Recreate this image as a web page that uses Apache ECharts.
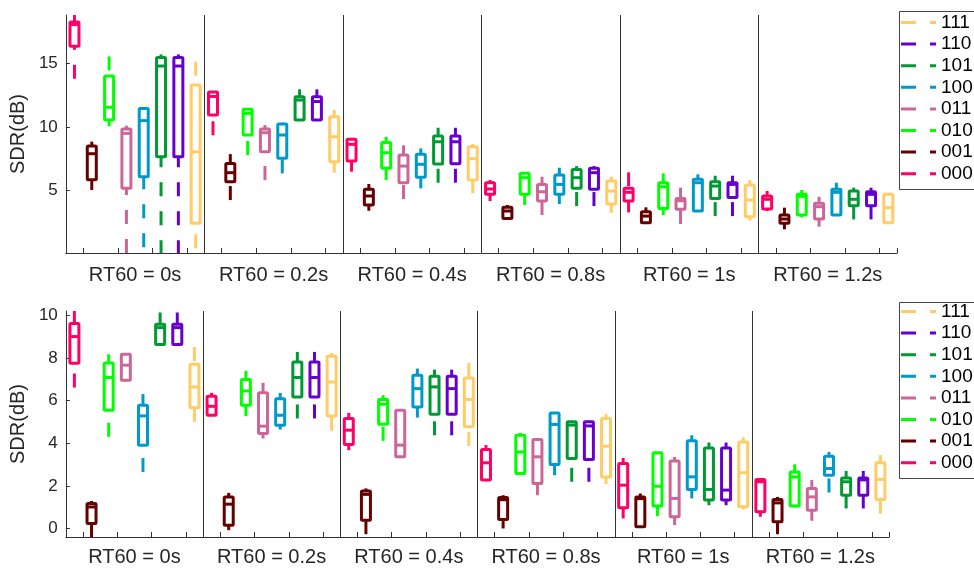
<!DOCTYPE html>
<html>
<head>
<meta charset="utf-8">
<script src="https://cdn.jsdelivr.net/npm/echarts@6/dist/echarts.min.js"></script>
<style>
  html, body { margin: 0; padding: 0; background: #fff; }
  #chart { width: 974px; height: 571px; }
</style>
</head>
<body>
<div id="chart"></div>
<script>
// group labels, legend codes and colours
const rt60Labels = ['RT60 = 0s', 'RT60 = 0.2s', 'RT60 = 0.4s', 'RT60 = 0.8s', 'RT60 = 1s', 'RT60 = 1.2s'];
const codes = ['000', '001', '010', '011', '100', '101', '110', '111'];
const legendOrder = ['111', '110', '101', '100', '011', '010', '001', '000'];
const colors = ['#ff0066', '#660000', '#00ff00', '#cc6699', '#0099cc', '#009933', '#6600cc', '#ffcc66'];
const slots = Array.from({ length: 48 }, (_, i) => String(i));
const groupStarts = [8, 16, 24, 32, 40];
const topTicks = [5, 10, 15];
const bottomTicks = [0, 2, 4, 6, 8, 10];

// each row: [lower whisker, q1, median, q3, upper whisker] for one RT60 group
// upper panel
const top000 = [[13.8, 16.35, 18.05, 18.25, 18.8], [9.35, 10.95, 12.4, 12.75, 12.8], [6.49, 7.33, 8.64, 9.03, 9.1], [4.18, 4.71, 5.13, 5.62, 5.83], [3.29, 4.18, 4.87, 5.18, 6.44], [3.4, 3.56, 4.32, 4.58, 4.97]];
const top001 = [[5.05, 5.85, 7.9, 8.5, 8.85], [4.26, 5.7, 6.41, 7.14, 7.87], [3.42, 3.87, 4.58, 5.1, 5.52], [2.78, 2.82, 3.4, 3.69, 3.87], [2.45, 2.48, 3.0, 3.34, 3.69], [1.96, 2.43, 2.77, 3.08, 3.66]];
const top010 = [[10.05, 10.55, 11.55, 14.0, 15.55], [7.8, 9.37, 11.07, 11.39, 11.39], [5.83, 6.75, 7.98, 8.79, 9.23], [3.87, 4.71, 6.02, 6.36, 6.36], [3.08, 3.6, 5.31, 5.62, 6.36], [2.9, 3.08, 4.55, 4.71, 5.05]];
const top011 = [[0.1, 5.18, 9.5, 9.84, 10.1], [5.83, 8.06, 9.55, 9.84, 10.15], [4.34, 5.62, 6.93, 7.8, 8.56], [3.08, 4.18, 4.91, 5.49, 6.09], [2.38, 3.53, 4.21, 4.39, 5.23], [2.17, 2.77, 3.74, 4.0, 4.52]];
const top100 = [[0.55, 6.09, 10.5, 11.46, 11.51], [6.36, 7.54, 9.37, 10.23, 10.33], [5.18, 6.05, 7.07, 7.85, 8.32], [3.95, 4.71, 5.49, 6.23, 6.8], [3.35, 3.4, 5.62, 5.89, 6.28], [3.0, 3.08, 4.87, 5.1, 5.62]];
const top101 = [[0.0, 7.66, 14.79, 15.47, 15.7], [10.5, 10.55, 12.12, 12.38, 12.96], [5.62, 7.09, 8.84, 9.29, 9.94], [3.79, 5.18, 6.02, 6.67, 6.93], [3.0, 4.39, 5.36, 5.7, 6.17], [2.74, 3.82, 4.32, 4.97, 5.23]];
const top110 = [[0.0, 7.66, 14.79, 15.47, 15.7], [10.5, 10.55, 12.0, 12.38, 12.96], [5.62, 7.12, 8.84, 9.3, 9.94], [3.79, 5.1, 6.41, 6.75, 6.93], [3.0, 4.47, 5.49, 5.62, 6.17], [2.74, 3.82, 4.71, 4.92, 5.23]];
const top111 = [[0.47, 2.43, 8.05, 13.3, 15.13], [6.41, 7.27, 9.23, 10.81, 11.33], [4.79, 5.83, 7.51, 8.45, 8.66], [3.26, 3.95, 4.97, 5.75, 6.09], [2.64, 2.95, 4.26, 5.44, 5.83], [2.45, 2.48, 3.66, 4.71, 4.84]];

// lower panel
const bot000 = [[6.61, 7.75, 9.0, 9.61, 10.2], [5.28, 5.31, 5.73, 6.2, 6.36], [3.67, 3.94, 4.61, 5.16, 5.42], [2.25, 2.27, 3.08, 3.7, 3.91], [0.47, 0.97, 2.03, 3.05, 3.31], [0.55, 0.78, 2.19, 2.3, 2.37]];
const bot001 = [[-0.47, 0.23, 1.01, 1.17, 1.29], [-0.08, 0.15, 1.14, 1.48, 1.67], [-0.27, 0.39, 1.6, 1.76, 1.88], [0.0, 0.42, 1.35, 1.45, 1.56], [0.05, 0.08, 1.4, 1.48, 1.64], [-0.27, 0.31, 1.2, 1.36, 1.48]];
const bot010 = [[4.3, 5.55, 7.08, 7.76, 8.17], [5.27, 5.78, 6.45, 6.99, 7.39], [4.11, 4.89, 5.83, 6.05, 6.25], [2.5, 2.58, 3.59, 4.37, 4.48], [0.58, 1.05, 1.98, 3.55, 3.55], [1.0, 1.05, 2.42, 2.65, 3.01]];
const bot011 = [[6.9, 6.95, 7.66, 8.17, 8.17], [4.22, 4.45, 4.8, 6.36, 6.83], [3.3, 3.36, 3.91, 5.55, 5.55], [1.56, 2.11, 3.36, 4.17, 4.17], [0.16, 0.55, 1.41, 3.16, 3.36], [0.36, 0.86, 1.48, 1.88, 2.27]];
const bot100 = [[2.65, 3.9, 5.28, 5.78, 6.3], [4.64, 4.84, 5.31, 6.09, 6.36], [5.2, 5.7, 6.56, 7.19, 7.5], [2.5, 3.0, 4.88, 5.42, 5.42], [1.41, 1.83, 2.42, 4.11, 4.37], [1.69, 2.5, 2.81, 3.39, 3.59]];
const bot101 = [[8.6, 8.63, 9.42, 9.58, 10.13], [5.16, 6.17, 7.08, 7.81, 8.28], [4.37, 5.36, 6.64, 7.14, 7.45], [2.19, 3.28, 4.85, 5.0, 5.0], [1.09, 1.33, 1.83, 3.78, 4.03], [0.94, 1.56, 2.19, 2.37, 2.7]];
const bot110 = [[8.6, 8.63, 9.42, 9.58, 10.13], [5.16, 6.17, 7.08, 7.81, 8.28], [4.37, 5.36, 6.56, 7.14, 7.45], [2.19, 3.23, 4.81, 5.0, 5.0], [1.09, 1.33, 1.8, 3.78, 4.03], [0.94, 1.56, 2.28, 2.37, 2.7]];
const bot111 = [[5.0, 5.66, 6.64, 7.7, 8.51], [4.58, 5.27, 6.87, 8.08, 8.23], [3.87, 4.77, 6.05, 7.06, 7.76], [2.08, 2.42, 3.86, 5.16, 5.36], [0.89, 1.02, 2.61, 4.06, 4.27], [0.7, 1.36, 2.3, 3.08, 3.44]];

const topStats = [top000, top001, top010, top011, top100, top101, top110, top111];
const botStats = [bot000, bot001, bot010, bot011, bot100, bot101, bot110, bot111];

const FONT = "'Liberation Sans', Arial, sans-serif";
const AXIS_COLOR = '#333';

function renderBox(params, api) {
  const x = api.value(0);
  const lo = api.coord([x, api.value(1)]);
  const q1 = api.coord([x, api.value(2)]);
  const md = api.coord([x, api.value(3)]);
  const q3 = api.coord([x, api.value(4)]);
  const hi = api.coord([x, api.value(5)]);
  const cx = q1[0];
  const half = 4.5;
  const color = api.visual('color');
  const line = { stroke: color, lineWidth: 3, fill: null, lineCap: 'butt' };
  const kids = [];
  // whiskers start at the far end so the dash pattern begins there (like matlab)
  if (lo[1] - q1[1] > 0.5) {
    kids.push({ type: 'line', shape: { x1: cx, y1: lo[1], x2: cx, y2: q1[1] },
      style: Object.assign({ lineDash: [14, 15] }, line) });
  }
  if (q3[1] - hi[1] > 0.5) {
    kids.push({ type: 'line', shape: { x1: cx, y1: hi[1], x2: cx, y2: q3[1] },
      style: Object.assign({ lineDash: [14, 15] }, line) });
  }
  kids.push({ type: 'rect', shape: { x: cx - half, y: q3[1], width: half * 2, height: q1[1] - q3[1], r: 1 },
    style: Object.assign({ lineJoin: 'round' }, line) });
  kids.push({ type: 'line', shape: { x1: cx - half, y1: md[1], x2: cx + half, y2: md[1] }, style: line });
  return { type: 'group', children: kids };
}

// vertical separator at the left edge of the first slot of a group
function renderSeparator(params, api) {
  const c = api.coord([api.value(0), 0]);
  const band = api.size([1, 0])[0];
  const cs = params.coordSys;
  const x = Math.round(c[0] - band / 2) + 0.5;
  return { type: 'line', shape: { x1: x, y1: cs.y, x2: x, y2: cs.y + cs.height },
    style: { stroke: AXIS_COLOR, lineWidth: 1 } };
}

function makeSeries(stats, panel) {
  const list = stats.map((rows, c) => ({
    type: 'custom',
    name: codes[c],
    xAxisIndex: panel * 2,
    yAxisIndex: panel,
    clip: true,
    itemStyle: { color: colors[c] },
    renderItem: renderBox,
    encode: { x: 0, y: [1, 2, 3, 4, 5] },
    data: rows.map((r, g) => [g * 8 + c].concat(r))
  }));
  list.unshift({
    type: 'custom', name: 'sep', xAxisIndex: panel * 2, yAxisIndex: panel,
    renderItem: renderSeparator, silent: true,
    encode: { x: 0 },
    data: groupStarts.map((s) => [s])
  });
  return list;
}

function slotAxis(grid) {
  return {
    type: 'category', gridIndex: grid, data: slots, position: 'bottom',
    axisLine: { show: true, onZero: false, lineStyle: { color: AXIS_COLOR, width: 1 } },
    axisTick: { show: true, inside: true, length: 5, interval: (i) => i % 2 === 1, lineStyle: { color: AXIS_COLOR } },
    axisLabel: { show: false },
    splitLine: { show: false }
  };
}

function groupAxis(grid, margin) {
  return {
    type: 'category', gridIndex: grid, data: rt60Labels, position: 'bottom',
    axisLine: { show: false, onZero: false }, axisTick: { show: false }, splitLine: { show: false },
    axisLabel: { interval: 0, margin: margin, fontSize: 20, color: '#262626', fontFamily: FONT }
  };
}

function valueAxis(grid, min, max, ticks) {
  return {
    type: 'value', gridIndex: grid, min: min, max: max,
    name: 'SDR(dB)', nameLocation: 'middle', nameGap: 31,
    nameTextStyle: { fontSize: 20, color: '#262626', fontFamily: FONT },
    axisLine: { show: true, onZero: false, lineStyle: { color: AXIS_COLOR, width: 1 } },
    axisTick: { show: true, inside: true, length: 4, customValues: ticks, lineStyle: { color: AXIS_COLOR } },
    axisLabel: { customValues: ticks, margin: 8, fontSize: 17, color: '#262626', fontFamily: FONT },
    splitLine: { show: false }
  };
}

// legend content only; its frame runs off the right edge, so it is drawn separately
function legendBox(top) {
  return {
    data: legendOrder, orient: 'vertical', left: 901, top: top,
    icon: 'path://M0,0H15V3H0Z M29,0H35V3H29Z',
    itemWidth: 35, itemHeight: 3, itemGap: 2.6,
    padding: 0,
    selectedMode: false,
    textStyle: { fontSize: 19, color: '#000', fontFamily: FONT, lineHeight: 19 }
  };
}

function legendFrame(top, height) {
  return { type: 'rect', left: 897, top: top, silent: true,
    shape: { x: 0.5, y: 0.5, width: 110, height: height },
    style: { fill: null, stroke: '#444', lineWidth: 1 } };
}

const chart = echarts.init(document.getElementById('chart'));
chart.setOption({
  animation: false,
  backgroundColor: '#fff',
  grid: [
    { left: 63, top: 15, width: 834, height: 238 },
    { left: 62, top: 311, width: 827, height: 226 }
  ],
  xAxis: [slotAxis(0), groupAxis(0, 12), slotAxis(1), groupAxis(1, 10)],
  yAxis: [valueAxis(0, 0.1, 18.8, topTicks), valueAxis(1, -0.4, 10.2, bottomTicks)],
  legend: [legendBox(13), legendBox(302)],
  graphic: [legendFrame(9, 178), legendFrame(300, 176)],
  series: makeSeries(topStats, 0).concat(makeSeries(botStats, 1))
});
</script>
</body>
</html>
